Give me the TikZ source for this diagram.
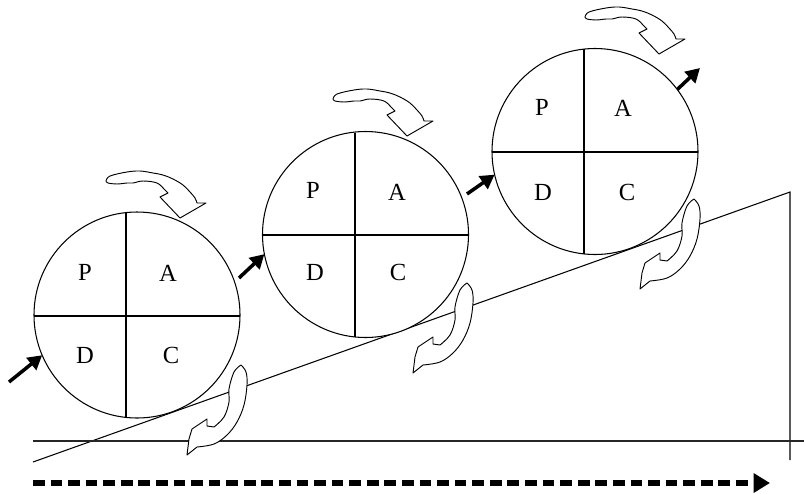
\documentclass[tikz,border=0pt]{standalone}
\usepackage{fontspec}
\setmainfont{Liberation Serif}
\usetikzlibrary{arrows.meta}
\begin{document}
\begin{tikzpicture}[x=0.03cm,y=-0.03cm,
  pdcacircle/.style={circle,draw,line width=0.9pt,fill=white,minimum size=6.18cm,inner sep=0pt,outer sep=0pt},
  divider/.style={line width=0.9pt},
  lbl/.style={font=\fontsize{21}{24}\selectfont,inner sep=0pt},
  thinline/.style={line width=0.9pt},
  baseln/.style={line width=1.3pt,draw=black!85},
  smallarr/.style={line width=3pt,-{Triangle[length=12pt,width=13pt]}},
  dasharr/.style={line width=4.4pt,dash pattern=on 10pt off 5pt,-{Triangle[length=14pt,width=16pt]}},
  curvarr/.style={draw,fill=white,line width=0.8pt,line join=round},
  toparr/.pic={\path[curvarr] plot[smooth,tension=0.6] coordinates {(0,0) (4,-5) (21,-9) (34,-10) (47,-8) (57,-6) (67,-2) (77,4) (84,11) (89,17) (91,22)} -- (100,22) -- (74,37) -- (54,16) -- (62,12) -- plot[smooth,tension=0.6] coordinates {(62,12) (59,9) (51,2) (37,0) (27,2) (21,2) (11,3) (2,2) (0,0)} -- cycle;},
  botarr/.pic={\path[curvarr] plot[smooth,tension=0.6] coordinates {(0,0) (5,7) (6,20) (3,40) (-4,57) (-14,70) (-27,79) (-44,82)} -- (-54,90) -- (-52,74) -- (-49,64) -- (-34,54) -- (-34,61) -- (-27,62) -- plot[smooth,tension=0.6] coordinates {(-27,62) (-17,52) (-12,37) (-12,24) (-7,7) (0,0)} -- cycle;}
]
\useasboundingbox (0,0) rectangle (804,493);

% ground lines
\coordinate (i0) at (33,462);
\coordinate (i1) at (790,192);
\coordinate (v1) at (790,460);
\coordinate (b0) at (33,441);
\coordinate (b1) at (804,441);
\draw[thinline] (i0) -- (i1) -- (v1);
\draw[baseln] (b0) -- (b1);

% dashed time arrow
\coordinate (d0) at (33,483);
\coordinate (d1) at (770,483);
\draw[dasharr] (d0) -- (d1);

% circles
\node[pdcacircle] (c1) at (137,315) {};
\node[pdcacircle] (c2) at (365.5,234.5) {};
\node[pdcacircle] (c3) at (595,151.5) {};

\draw[divider] (126,212.6) -- (126,417.4);
\draw[divider] (34,316) -- (240,316);
\draw[divider] (355,132.5) -- (355,336.5);
\draw[divider] (263,235) -- (468,235);
\draw[divider] (584,49.1) -- (584,253.9);
\draw[divider] (492,152) -- (698,152);

% labels
\node[lbl] (p1) at (85,272) {P};
\node[lbl] (a1) at (168,273) {A};
\node[lbl] (dd1) at (85,355) {D};
\node[lbl] (cc1) at (171,355) {C};
\node[lbl] (p2) at (313,190) {P};
\node[lbl] (a2) at (397,192) {A};
\node[lbl] (dd2) at (315,272) {D};
\node[lbl] (cc2) at (398,272) {C};
\node[lbl] (p3) at (542,107) {P};
\node[lbl] (a3) at (623,108) {A};
\node[lbl] (dd3) at (543,192) {D};
\node[lbl] (cc3) at (627,192) {C};

% small black arrows
\coordinate (t1) at (9,382);
\coordinate (t2) at (239,278);
\coordinate (t3) at (467,194);
\coordinate (h4) at (700,68);
\draw[smallarr] (t1) -- (c1.203);
\draw[smallarr] (t2) -- (c2.191);
\draw[smallarr] (t3) -- (c3.193);
\draw[smallarr] (c3.37) -- (h4);

% curved hollow arrows
\pic at (106,181) {toparr};
\pic at (333,99) {toparr};
\pic at (585,17) {toparr};
\pic at (241,365) {botarr};
\pic at (467,283) {botarr};
\pic at (694,199) {botarr};
\end{tikzpicture}
\end{document}
